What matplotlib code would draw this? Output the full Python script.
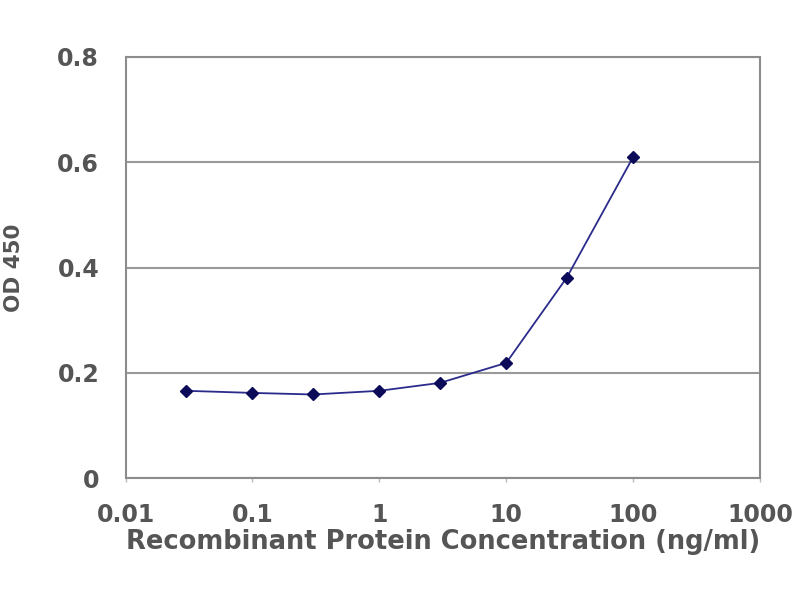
import matplotlib
matplotlib.use("Agg")
import matplotlib.pyplot as plt
from matplotlib.ticker import FixedLocator, FixedFormatter, NullLocator

# data
conc = [0.03, 0.1, 0.3, 1, 3, 10, 30, 100]
od450 = [0.166, 0.162, 0.159, 0.166, 0.181, 0.219, 0.381, 0.610]
x_ticks = [0.01, 0.1, 1, 10, 100, 1000]
x_labels = ['0.01', '0.1', '1', '10', '100', '1000']
y_ticks = [0, 0.2, 0.4, 0.6, 0.8]
y_labels = ['0', '0.2', '0.4', '0.6', '0.8']

txt = '#555555'

fig = plt.figure(figsize=(8, 6), dpi=100)
ax = fig.add_axes([0.157, 0.203, 0.793, 0.702])

ax.plot(conc, od450, color='#2b2b8c', lw=1.3, marker='D', ms=6,
        mfc='#0b0b5a', mec='#0b0b5a')

ax.set_xscale('log')
ax.set_xlim(0.01, 1000)
ax.set_ylim(0, 0.8)
ax.xaxis.set_major_locator(FixedLocator(x_ticks))
ax.xaxis.set_major_formatter(FixedFormatter(x_labels))
ax.xaxis.set_minor_locator(NullLocator())
ax.set_yticks(y_ticks)
ax.set_yticklabels(y_labels)

ax.yaxis.grid(True, color='#999999', lw=1.5)
ax.set_axisbelow(True)
for s in ax.spines.values():
    s.set_color('#8c8c8c')
    s.set_linewidth(1.5)
ax.tick_params(axis='y', length=0, pad=19, labelsize=17, colors=txt)
ax.tick_params(axis='x', length=3, width=1, color='#bbbbbb', pad=15,
               labelsize=17, labelcolor=txt)
for lab in ax.get_xticklabels() + ax.get_yticklabels():
    lab.set_fontweight('bold')

ax.set_xlabel('Recombinant Protein Concentration (ng/ml)', fontsize=18.5,
              fontweight='bold', color=txt, labelpad=1)
ax.set_ylabel('OD 450', fontsize=15.5, fontweight='bold', color=txt,
              labelpad=24)

fig.savefig('out.png', dpi=100)
